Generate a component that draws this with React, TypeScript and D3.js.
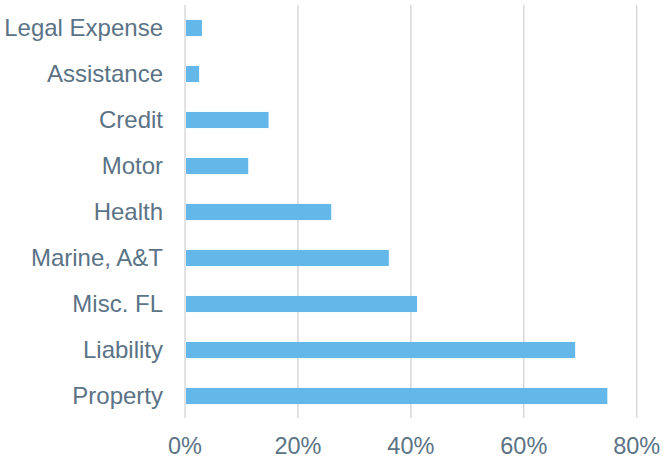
import { useEffect, useRef } from 'react'
import * as d3 from 'd3'

const categories = ['Legal Expense', 'Assistance', 'Credit', 'Motor', 'Health', 'Marine, A&T', 'Misc. FL', 'Liability', 'Property']
const values = [3.0, 2.5, 14.8, 11.2, 25.9, 36.1, 41.1, 69.1, 74.8]
const ticks = [0, 20, 40, 60, 80]

const W = 664
const H = 457

const App = () => {
  const svgRef = useRef<SVGSVGElement>(null)

  useEffect(() => {
    if (!svgRef.current) return
    const svg = d3.select(svgRef.current)
    svg.selectAll('*').remove()

    const x = d3.scaleLinear().domain([0, 80]).range([185, 636.7])
    const y = d3.scaleBand().domain(categories).range([5, 419]).paddingInner(0.65).paddingOuter(0.325)

    const textColor = '#5b7386'
    const font = '"Liberation Sans", Arial, sans-serif'

    // gridlines
    svg.append('g')
      .selectAll('line')
      .data(ticks)
      .enter()
      .append('line')
      .attr('x1', (d) => x(d))
      .attr('x2', (d) => x(d))
      .attr('y1', 5)
      .attr('y2', 418)
      .attr('stroke', '#d9d9d9')
      .attr('stroke-width', 1.5)

    // bars
    svg.append('g')
      .selectAll('rect')
      .data(values)
      .enter()
      .append('rect')
      .attr('x', x(0) + 1)
      .attr('y', (_d, i) => y(categories[i])!)
      .attr('width', (d) => x(d) - x(0) - 1)
      .attr('height', y.bandwidth())
      .attr('fill', '#63b8e9')

    // category labels
    svg.append('g')
      .selectAll('text')
      .data(categories)
      .enter()
      .append('text')
      .attr('x', 163)
      .attr('y', (d) => y(d)! + y.bandwidth() / 2)
      .attr('dy', '0.35em')
      .attr('text-anchor', 'end')
      .style('font-family', font)
      .style('font-size', '24px')
      .style('fill', textColor)
      .text((d) => d)

    // tick labels (cut at the bottom edge, as in the original)
    svg.append('g')
      .selectAll('text')
      .data(ticks)
      .enter()
      .append('text')
      .attr('x', (d) => x(d))
      .attr('y', 454)
      .attr('text-anchor', 'middle')
      .style('font-family', font)
      .style('font-size', '23.5px')
      .style('fill', textColor)
      .text((d) => `${d}%`)
  }, [])

  return (
    <svg
      ref={svgRef}
      width={W}
      height={H}
      style={{ position: 'absolute', left: 0, top: 0, background: '#fff' }}
    />
  )
}

export default App
